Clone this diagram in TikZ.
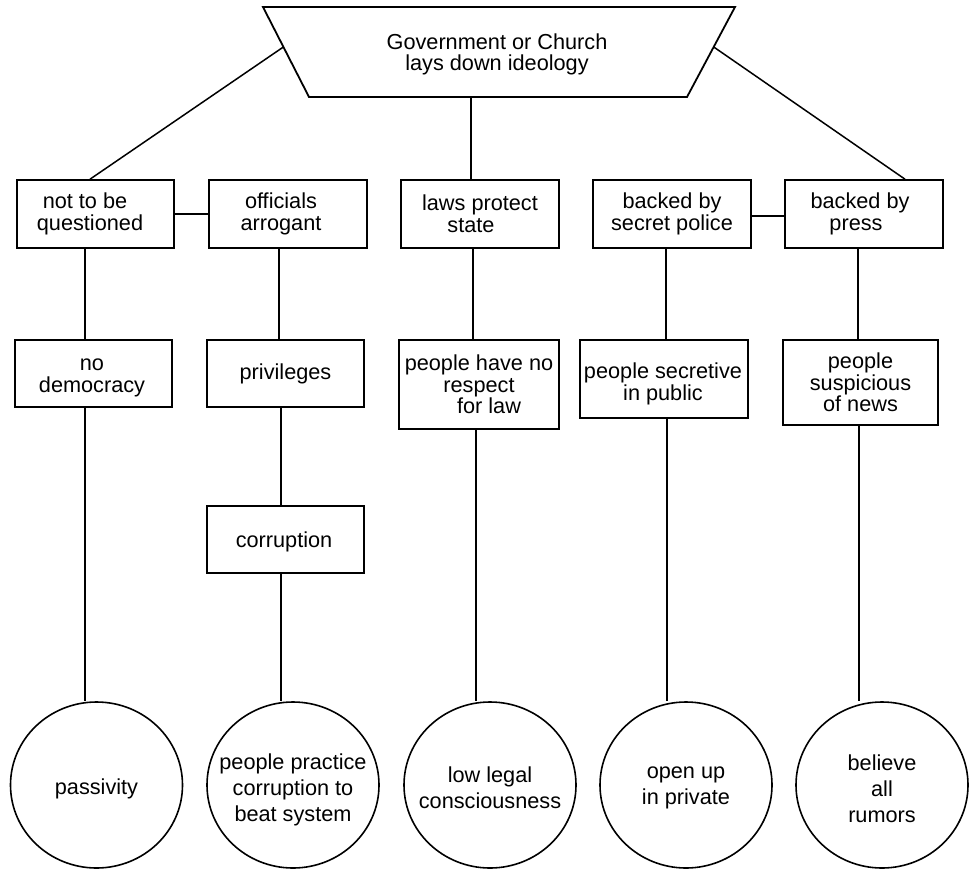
\documentclass[tikz,border=0pt]{standalone}
\usepackage{fontspec}
\setmainfont{Liberation Sans}
\usetikzlibrary{shapes.geometric,calc}
\tikzset{
  conn/.style={line width=1.5pt, black},
  boxnode/.style={draw, rectangle, line width=1.6pt, inner sep=0pt, align=center,
    font=\fontsize{21.7}{21.7}\selectfont},
  boxtext/.style={align=center, inner sep=0pt, font=\fontsize{21.7}{21.7}\selectfont},
  circnode/.style={draw, ellipse, line width=1.6pt, inner sep=0pt,
    minimum width=172pt, minimum height=166pt},
  circtext/.style={align=center, inner sep=0pt, font=\fontsize{21.7}{25.8}\selectfont},
  govtext/.style={align=center, inner sep=0pt, font=\fontsize{21.7}{21}\selectfont}
}
\begin{document}
\begin{tikzpicture}[x=1pt,y=-1pt]
\useasboundingbox (0,0) rectangle (969,870);
\fill[white] (0,0) rectangle (969,870);

% top trapezoid
\coordinate (tl) at (263,7);
\coordinate (tr) at (735,7);
\coordinate (br) at (687,97);
\coordinate (bl) at (309,97);
\draw[line width=1.8pt] (tl) -- (tr) -- (br) -- (bl) -- cycle;
\node[govtext] (gov) at (497,54) {Government or Church\\lays down ideology};
\coordinate (govW) at ($(tl)!0.444!(bl)$);
\coordinate (govE) at ($(tr)!0.444!(br)$);
\coordinate (govS) at (471,97);

% row 1
\node[boxnode, minimum width=157pt, minimum height=68pt] (B1) at (95.5,214) {not to be\hspace*{21pt}\\questioned\hspace*{11pt}};
\node[boxnode, minimum width=158pt, minimum height=68pt] (B2) at (288,214) {officials\hspace*{14pt}\\arrogant\hspace*{14pt}};
\node[boxnode, minimum width=158pt, minimum height=68pt] (B3) at (480,214) {laws protect\\state\hspace*{18pt}};
\node[boxnode, minimum width=158pt, minimum height=68pt] (B4) at (672,214) {backed by\\secret police};
\node[boxnode, minimum width=158pt, minimum height=68pt] (B5) at (864,214) {backed by\hspace*{8pt}\\press\hspace*{16pt}};

% row 2
\node[boxnode, minimum width=157pt, minimum height=67pt] (R1) at (93.5,373.5) {};
\node[boxtext] (R1t) at (92,378) {no\\democracy};
\node[boxnode, minimum width=157pt, minimum height=67pt] (R2) at (285.5,373.5) {privileges};
\node[boxnode, minimum width=160pt, minimum height=89pt] (R3) at (479,384.5) {people have no\\respect\\\hspace*{20pt}for law};
\node[boxnode, minimum width=168pt, minimum height=78pt] (R4) at (664,379) {};
\node[boxtext] (R4t) at (663,384) {people secretive\\in public};
\node[boxnode, minimum width=155pt, minimum height=85pt] (R5) at (860.5,382.5) {people\\suspicious\\of news};

% row 3
\node[boxnode, minimum width=157pt, minimum height=67pt] (K2) at (285.5,539.5) {};
\node[boxtext] (K2t) at (284,542) {corruption};

% circles
\node[circnode] (C1) at (96.5,785) {};
\node[circnode] (C2) at (293,785) {};
\node[circnode] (C3) at (490,785) {};
\node[circnode] (C4) at (686,785) {};
\node[circnode] (C5) at (882,785) {};
\node[circtext] (C1t) at (96.5,789) {passivity};
\node[circtext] (C2t) at (293,790) {people practice\\corruption to\\beat system};
\node[circtext] (C3t) at (490,788) {low legal\\consciousness};
\node[circtext] (C4t) at (686,788) {open up\\in private};
\node[circtext] (C5t) at (882,789) {believe\\all\\rumors};

% connectors from top
\draw[conn] (govW) -- ([xshift=-5.5pt]B1.north);
\draw[conn] (govE) -- ([xshift=41pt]B5.north);
\draw[conn] (govS) -- (govS |- B3.north);

% horizontal links
\draw[conn] (B1.east) -- (B2.west);
\draw[conn] ([yshift=-2pt]B4.east) -- ([yshift=-2pt]B5.west);

% vertical links
\draw[conn] ([xshift=-10.5pt]B1.south) -- ([xshift=-10.5pt]B1.south |- R1.north);
\draw[conn] ([xshift=-8.5pt]R1.south) -- ([xshift=-8.5pt]R1.south |- C1.north);
\draw[conn] ([xshift=-9pt]B2.south) -- ([xshift=-9pt]B2.south |- R2.north);
\draw[conn] ([xshift=-4.5pt]R2.south) -- ([xshift=-4.5pt]R2.south |- K2.north);
\draw[conn] ([xshift=-4.5pt]K2.south) -- ([xshift=-4.5pt]K2.south |- C2.north);
\draw[conn] ([xshift=-7pt]B3.south) -- ([xshift=-7pt]B3.south |- R3.north);
\draw[conn] ([xshift=-3pt]R3.south) -- ([xshift=-3pt]R3.south |- C3.north);
\draw[conn] ([xshift=-6pt]B4.south) -- ([xshift=-6pt]B4.south |- R4.north);
\draw[conn] ([xshift=3pt]R4.south) -- ([xshift=3pt]R4.south |- C4.north);
\draw[conn] ([xshift=-6pt]B5.south) -- ([xshift=-6pt]B5.south |- R5.north);
\draw[conn] ([xshift=-1.5pt]R5.south) -- ([xshift=-1.5pt]R5.south |- C5.north);
\end{tikzpicture}
\end{document}
